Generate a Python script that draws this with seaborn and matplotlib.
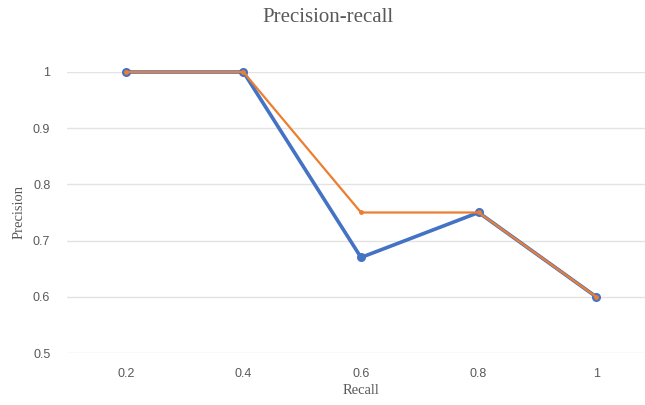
import matplotlib
matplotlib.use("Agg")
import matplotlib.pyplot as plt
import seaborn as sns
import numpy as np
import pandas as pd

recall_labels = ["0.2", "0.4", "0.6", "0.8", "1"]
precision_a = [1.0, 1.0, 0.67, 0.75, 0.6]
precision_b = [1.0, 1.0, 0.75, 0.75, 0.6]
y_ticks = [0.5, 0.6, 0.7, 0.8, 0.9, 1.0]
y_tick_labels = ["0.5", "0.6", "0.7", "0.8", "0.9", "1"]

sns.set_theme(style="white")
plt.rcParams["font.family"] = ["Liberation Sans", "DejaVu Sans"]

W, H = 645, 405
fig = plt.figure(figsize=(W / 100, H / 100), dpi=100)
left, right, top, bottom = 67, 655, 72, 353
ax = fig.add_axes([left / W, 1 - bottom / H, (right - left) / W, (bottom - top) / H])

pos = np.arange(len(recall_labels))
df = pd.DataFrame({"pos": pos, "a": precision_a, "b": precision_b})

sns.lineplot(data=df, x="pos", y="a", ax=ax, color="#4472C4", linewidth=2.6,
             marker="o", markersize=6.5, markeredgewidth=0, clip_on=False, zorder=3)
sns.lineplot(data=df, x="pos", y="b", ax=ax, color="#ED7D31", linewidth=1.6,
             marker="o", markersize=3.5, markeredgewidth=0, clip_on=False, zorder=4)

ax.set_xlim(-0.5, len(recall_labels) - 0.5)
ax.set_ylim(0.5, 1.0)
ax.set_xticks(pos)
ax.set_xticklabels(recall_labels)
ax.set_yticks(y_ticks)
ax.set_yticklabels(y_tick_labels)
ax.grid(axis="y", color="#E3E3E3", linewidth=1)
ax.grid(axis="x", visible=False)
for s in ax.spines.values():
    s.set_visible(False)
ax.tick_params(axis="both", length=0, labelsize=9, colors="#595959")
ax.tick_params(axis="x", pad=11)
ax.tick_params(axis="y", pad=12)

serif = ["Liberation Serif", "DejaVu Serif"]
ax.set_xlabel("Recall", family=serif, fontsize=10.5, color="#595959", labelpad=3)
ax.set_ylabel("Precision", family=serif, fontsize=10.5, color="#595959", labelpad=5)
fig.text(0.5 + 5 / W, 1 - 17 / H, "Precision-recall", family=serif, fontsize=15,
         color="#595959", ha="center", va="center")

fig.savefig("out.png", dpi=100)
